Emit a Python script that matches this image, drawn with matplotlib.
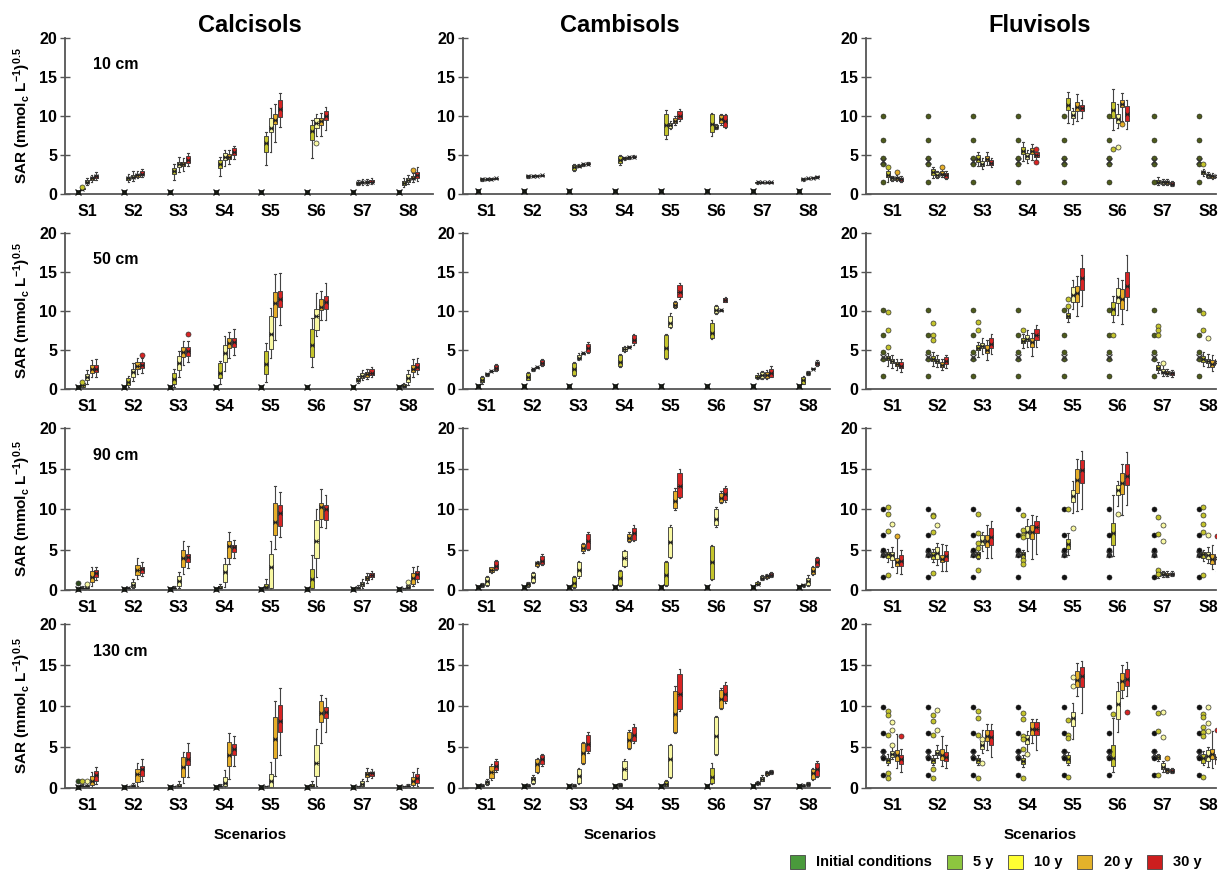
import matplotlib
matplotlib.use('Agg')
import matplotlib.pyplot as plt
from matplotlib.patches import Patch

plt.rcParams['font.family'] = ['Liberation Sans', 'DejaVu Sans']
plt.rcParams['font.weight'] = 'bold'
plt.rcParams['mathtext.fontset'] = 'custom'
plt.rcParams['mathtext.rm'] = 'Liberation Sans:bold'
plt.rcParams['mathtext.bf'] = 'Liberation Sans:bold'
plt.rcParams['mathtext.it'] = 'Liberation Sans:bold'

SCENARIOS = ['S1', 'S2', 'S3', 'S4', 'S5', 'S6', 'S7', 'S8']
SOILS = ['Calcisols', 'Cambisols', 'Fluvisols']
DEPTHS = ['10 cm', '50 cm', '90 cm', '130 cm']
TIMES = ['Initial conditions', '5 y', '10 y', '20 y', '30 y']
YTICKS = [0, 5, 10, 15, 20]

# ---- box stats per scenario: (whisker_low, q1, median, q3, whisker_high)
# ---------------- Calcisols ----------------
CALC_10_INIT = [0.2, 0.2, 0.2, 0.2, 0.2, 0.2, 0.2, 0.2]
CALC_10_Y05 = [(0.5,0.6,0.7,0.8,1.0),(1.5,1.8,2.0,2.2,2.6),(1.8,2.6,3.0,3.3,3.9),(2.3,3.3,3.8,4.4,4.8),(3.7,5.4,6.5,7.4,8.0),(4.6,6.9,8.1,8.8,9.5),(1.1,1.3,1.4,1.6,1.8),(0.9,1.2,1.4,1.7,2.0)]
CALC_10_Y10 = [(1.1,1.4,1.6,1.8,2.1),(1.7,2.0,2.2,2.5,2.9),(2.8,3.5,3.8,4.1,4.7),(3.6,4.3,4.8,5.2,5.7),(5.4,7.9,8.5,9.7,11.0),(7.4,8.5,9.1,9.7,10.3),(1.2,1.4,1.5,1.6,1.9),(1.3,1.6,1.8,2.0,2.4)]
CALC_10_Y20 = [(1.5,1.8,2.0,2.2,2.5),(2.0,2.2,2.4,2.6,3.0),(3.0,3.6,3.8,4.1,4.6),(3.9,4.5,4.8,5.1,5.7),(6.7,9.0,9.5,10.3,11.6),(7.5,8.9,9.3,9.8,10.4),(1.2,1.4,1.5,1.7,1.9),(1.5,1.9,2.1,2.3,2.7)]
CALC_10_Y30 = [(1.8,2.1,2.3,2.5,2.8),(2.2,2.4,2.6,2.9,3.2),(3.6,4.0,4.4,4.9,5.3),(4.5,5.0,5.4,5.9,6.2),(8.6,9.9,10.9,12.0,12.9),(8.2,9.5,10.0,10.6,11.2),(1.3,1.5,1.6,1.8,2.0),(1.7,2.0,2.4,2.8,3.4)]
CALC_10_OUT = [(6, 2, 6.6), (8, 3, 3.1), (1, 1, 0.9)]

CALC_50_INIT = [0.2, 0.2, 0.2, 0.2, 0.2, 0.2, 0.2, 0.2]
CALC_50_Y05 = [(0.1,0.3,0.5,0.8,1.0),(0.2,0.5,0.9,1.4,1.7),(0.3,0.7,1.3,2.1,2.5),(0.6,1.4,2.0,3.3,3.6),(0.9,1.9,3.2,4.9,5.9),(2.8,4.1,5.6,7.7,9.1),(0.8,1.0,1.2,1.4,1.7),(0.1,0.2,0.4,0.6,0.8)]
CALC_50_Y10 = [(0.6,1.1,1.5,1.9,2.4),(1.0,1.6,2.2,2.6,3.3),(1.5,2.4,3.3,4.2,4.9),(2.3,3.4,4.6,5.6,6.8),(4.0,5.1,7.0,9.3,10.4),(6.8,7.6,9.3,10.3,12.3),(1.1,1.4,1.7,2.1,2.4),(0.5,0.9,1.4,1.9,2.4)]
CALC_50_Y20 = [(1.6,2.1,2.6,3.1,3.7),(1.9,2.6,3.0,3.5,4.0),(3.1,4.1,4.8,5.4,6.1),(4.0,5.2,5.9,6.6,7.3),(6.3,9.2,11.0,12.4,14.7),(8.9,10.1,10.5,11.5,12.6),(1.3,1.6,1.9,2.2,2.5),(1.6,2.2,2.6,3.1,3.9)]
CALC_50_Y30 = [(1.6,2.2,2.6,3.1,3.8),(2.1,2.7,3.1,3.5,4.0),(3.5,4.2,4.9,5.4,6.2),(4.4,5.4,6.0,6.6,7.7),(8.2,10.5,11.6,12.5,14.9),(8.8,10.3,11.2,11.9,13.6),(1.5,1.8,2.1,2.5,2.8),(1.9,2.4,2.8,3.3,4.0)]
CALC_50_OUT = [(2, 4, 4.4), (3, 4, 7.0), (1, 1, 0.9)]

CALC_90_INIT = [0.1, 0.1, 0.1, 0.1, 0.1, 0.1, 0.1, 0.1]
CALC_90_Y05 = [(0.1,0.15,0.2,0.3,0.5),(0.05,0.1,0.2,0.3,0.4),(0.05,0.1,0.2,0.3,0.5),(0.1,0.2,0.3,0.5,0.8),(0.1,0.2,0.4,0.7,1.3),(0.1,0.3,1.4,2.6,4.3),(0.05,0.1,0.2,0.4,0.6),(0.05,0.1,0.15,0.2,0.3)]
CALC_90_Y10 = [(0.1,0.2,0.3,0.5,0.8),(0.2,0.4,0.6,1.0,1.4),(0.3,0.5,1.1,1.7,2.2),(0.4,1.0,2.2,3.2,4.0),(0.1,0.3,2.8,4.5,6.0),(1.6,4.0,6.0,8.6,10.0),(0.3,0.5,0.8,1.0,1.4),(0.1,0.2,0.4,0.6,0.9)]
CALC_90_Y20 = [(0.5,1.0,1.6,2.3,2.9),(1.4,1.9,2.5,3.1,4.0),(2.0,2.9,4.0,4.9,6.0),(3.2,4.0,5.4,6.1,7.2),(5.1,6.8,8.4,10.7,12.8),(7.8,8.8,10.3,10.8,12.5),(0.9,1.2,1.5,1.7,2.1),(0.5,0.8,1.5,2.1,2.8)]
CALC_90_Y30 = [(1.2,1.6,2.1,2.5,2.9),(1.7,2.1,2.6,2.9,3.5),(2.7,3.5,4.1,4.5,5.4),(3.9,4.7,5.3,5.6,6.2),(6.5,7.9,9.5,10.5,12.1),(7.6,8.7,10.0,10.5,11.7),(1.3,1.6,1.9,2.1,2.4),(1.0,1.4,2.0,2.4,3.0)]
CALC_90_OUT = [(1, 0, 0.9), (1, 2, 0.8), (8, 2, 1.0)]

CALC_130_INIT = [0.1, 0.1, 0.1, 0.1, 0.1, 0.1, 0.1, 0.1]
CALC_130_Y05 = [(0.05,0.1,0.2,0.3,0.5),(0.05,0.1,0.15,0.2,0.3),(0.05,0.1,0.15,0.2,0.3),(0.05,0.1,0.2,0.3,0.5),(0.05,0.1,0.15,0.2,0.3),(0.05,0.1,0.3,0.5,0.8),(0.05,0.1,0.15,0.2,0.3),(0.05,0.1,0.15,0.2,0.3)]
CALC_130_Y10 = [(0.05,0.1,0.25,0.4,0.8),(0.05,0.1,0.2,0.35,0.6),(0.05,0.1,0.3,0.5,0.8),(0.05,0.2,0.6,1.3,2.2),(0.0,0.1,0.8,1.7,3.2),(0.2,1.5,3.0,5.3,7.2),(0.1,0.3,0.5,0.8,1.1),(0.05,0.1,0.2,0.3,0.5)]
CALC_130_Y20 = [(0.1,0.4,0.9,1.5,2.0),(0.3,0.7,1.7,2.3,3.1),(0.6,1.3,2.6,3.8,4.4),(1.1,2.7,4.0,5.6,6.7),(1.5,3.6,6.0,8.7,10.6),(5.5,8.0,9.1,10.6,11.3),(0.9,1.3,1.7,2.0,2.4),(0.1,0.4,0.8,1.3,1.9)]
CALC_130_Y30 = [(0.5,0.8,1.6,2.1,2.6),(0.8,1.5,2.3,2.7,3.5),(1.4,2.8,3.5,4.4,5.5),(2.7,4.0,4.7,5.4,6.4),(4.0,6.8,8.2,10.1,12.2),(6.8,8.5,9.3,9.9,11.0),(1.2,1.5,1.8,2.0,2.3),(0.3,0.6,1.2,1.7,2.4)]
CALC_130_OUT = [(1, 0, 0.9), (1, 2, 0.85), (1, 1, 0.85)]

# ---------------- Cambisols ----------------
CAMB_10_INIT = [0.35, 0.35, 0.35, 0.35, 0.35, 0.35, 0.35, 0.35]
CAMB_10_Y05 = [(1.7,1.8,1.9,2.0,2.1),(2.1,2.2,2.3,2.4,2.5),(2.9,3.1,3.4,3.7,3.9),(3.7,4.0,4.4,4.9,5.0),(7.0,7.6,8.8,10.3,10.8),(7.4,8.0,9.0,10.2,10.4),(1.3,1.4,1.5,1.6,1.7),(1.7,1.8,1.9,2.0,2.1)]
CAMB_10_Y10 = [(1.8,1.85,1.9,1.95,2.0),(2.2,2.25,2.3,2.35,2.4),(3.4,3.5,3.6,3.7,3.8),(4.4,4.5,4.6,4.7,4.8),(8.3,8.5,8.8,9.1,9.3),(8.3,8.4,8.6,8.8,9.0),(1.4,1.45,1.5,1.55,1.6),(1.9,1.95,2.0,2.05,2.1)]
CAMB_10_Y20 = [(1.85,1.9,1.95,2.0,2.05),(2.25,2.3,2.35,2.4,2.45),(3.6,3.7,3.8,3.9,4.0),(4.5,4.6,4.7,4.8,4.9),(8.9,9.1,9.4,9.8,10.0),(8.9,9.1,9.6,10.1,10.2),(1.4,1.45,1.5,1.55,1.6),(2.0,2.05,2.1,2.15,2.2)]
CAMB_10_Y30 = [(1.9,1.95,2.0,2.05,2.1),(2.3,2.35,2.4,2.45,2.5),(3.7,3.8,3.9,4.0,4.1),(4.6,4.7,4.8,4.9,5.0),(9.3,9.6,10.0,10.6,10.9),(8.4,8.6,9.4,10.1,10.2),(1.4,1.45,1.5,1.55,1.6),(2.1,2.15,2.2,2.25,2.3)]
CAMB_10_OUT = []

CAMB_50_INIT = [0.35, 0.35, 0.35, 0.35, 0.35, 0.35, 0.35, 0.35]
CAMB_50_Y05 = [(0.7,0.85,1.2,1.6,1.7),(1.1,1.2,1.6,2.0,2.2),(1.7,1.8,2.5,3.3,3.4),(2.8,2.9,3.4,4.4,4.5),(3.9,4.0,5.2,6.9,7.0),(6.4,6.5,7.2,8.4,8.9),(1.3,1.4,1.6,1.8,2.0),(0.6,0.7,1.1,1.5,1.7)]
CAMB_50_Y10 = [(1.7,1.8,1.9,2.0,2.1),(2.3,2.4,2.5,2.6,2.7),(3.7,3.8,4.0,4.4,4.6),(4.8,4.9,5.1,5.4,5.5),(7.8,8.0,8.5,9.4,9.8),(9.6,9.7,10.1,10.6,10.8),(1.3,1.4,1.8,2.2,2.3),(1.8,1.9,2.0,2.2,2.3)]
CAMB_50_Y20 = [(2.2,2.25,2.3,2.35,2.4),(2.7,2.75,2.8,2.85,2.9),(4.5,4.55,4.6,4.65,4.7),(5.3,5.35,5.4,5.45,5.5),(10.4,10.5,10.8,11.2,11.3),(10.0,10.05,10.1,10.15,10.2),(1.3,1.4,1.8,2.2,2.4),(2.5,2.55,2.6,2.65,2.7)]
CAMB_50_Y30 = [(2.3,2.4,2.7,3.1,3.2),(2.9,3.1,3.3,3.7,3.8),(4.6,4.8,5.2,5.8,6.0),(5.6,5.9,6.3,6.9,7.1),(11.6,11.8,12.4,13.3,13.6),(11.1,11.2,11.4,11.7,11.8),(1.5,1.6,2.1,2.5,2.9),(3.0,3.1,3.3,3.5,3.7)]
CAMB_50_OUT = []

CAMB_90_INIT = [0.35, 0.35, 0.35, 0.35, 0.35, 0.35, 0.35, 0.35]
CAMB_90_Y05 = [(0.4,0.5,0.6,0.8,0.9),(0.4,0.5,0.7,0.9,1.0),(0.3,0.4,0.9,1.6,1.7),(0.5,0.6,1.5,2.3,2.5),(0.5,0.6,1.9,3.4,3.6),(1.2,1.3,3.4,5.4,5.6),(0.6,0.7,0.8,1.0,1.1),(0.4,0.5,0.6,0.7,0.8)]
CAMB_90_Y10 = [(0.5,0.6,1.1,1.6,1.7),(0.9,1.0,1.6,2.1,2.2),(1.5,1.7,2.5,3.4,3.6),(2.9,3.0,4.0,4.8,5.0),(3.9,4.1,5.9,7.8,8.0),(7.8,8.0,8.8,10.0,10.3),(1.2,1.3,1.5,1.7,1.8),(0.5,0.6,1.1,1.5,1.8)]
CAMB_90_Y20 = [(2.1,2.2,2.5,2.8,2.9),(2.9,3.0,3.3,3.5,3.6),(4.6,4.8,5.2,5.7,5.8),(5.9,6.0,6.4,6.9,7.1),(9.9,10.1,11.0,12.2,12.6),(10.7,10.9,11.3,12.0,12.2),(1.4,1.5,1.7,1.9,2.0),(1.9,2.0,2.4,2.9,3.0)]
CAMB_90_Y30 = [(2.5,2.6,3.0,3.6,3.7),(3.1,3.2,3.6,4.2,4.4),(4.9,5.1,6.0,6.9,7.1),(6.0,6.2,7.0,7.7,8.0),(11.3,11.5,12.8,14.5,15.0),(10.9,11.1,11.8,12.6,12.9),(1.6,1.7,1.9,2.1,2.2),(2.9,3.0,3.5,3.9,4.1)]
CAMB_90_OUT = []

CAMB_130_INIT = [0.3, 0.3, 0.3, 0.3, 0.3, 0.3, 0.3, 0.3]
CAMB_130_Y05 = [(0.1,0.2,0.3,0.4,0.5),(0.1,0.2,0.3,0.4,0.5),(0.1,0.2,0.3,0.4,0.5),(0.1,0.2,0.4,0.5,0.6),(0.2,0.3,0.5,0.8,1.0),(0.5,0.6,1.3,2.4,3.0),(0.4,0.5,0.6,0.7,0.8),(0.1,0.2,0.3,0.4,0.5)]
CAMB_130_Y10 = [(0.4,0.5,0.7,0.9,1.1),(0.5,0.6,1.1,1.4,1.6),(0.5,0.6,1.5,2.3,2.5),(1.0,1.1,2.3,3.3,3.5),(1.2,1.3,3.5,5.2,5.4),(4.0,4.1,6.3,8.6,8.8),(0.8,0.9,1.1,1.4,1.6),(0.3,0.4,0.5,0.6,0.7)]
CAMB_130_Y20 = [(1.0,1.2,1.9,2.7,2.9),(1.8,2.0,2.9,3.5,3.7),(2.9,3.0,4.3,5.5,5.6),(4.8,4.9,5.8,6.8,7.1),(6.7,6.8,9.0,11.8,12.5),(9.6,9.8,10.9,12.0,12.2),(1.5,1.6,1.8,2.0,2.1),(1.0,1.1,1.8,2.3,2.5)]
CAMB_130_Y30 = [(2.0,2.2,2.7,3.3,3.5),(2.7,2.9,3.5,4.0,4.2),(4.3,4.5,5.4,6.5,6.8),(5.5,5.7,6.5,7.5,7.8),(9.4,9.6,11.5,13.9,14.5),(10.4,10.6,11.5,12.6,12.9),(1.7,1.8,1.9,2.1,2.2),(1.4,1.5,2.3,3.1,3.3)]
CAMB_130_OUT = []

# ---------------- Fluvisols ----------------
FLUV_10_INIT = [1.6, 3.9, 4.6, 6.9, 10.0]
FLUV_10_INIT_MEAN = 4.2
FLUV_10_Y05 = [(1.6,2.2,2.5,3.0,3.3),(2.1,2.4,2.8,3.2,3.4),(3.6,4.1,4.5,5.0,5.4),(4.2,5.1,5.5,6.0,6.7),(9.1,10.8,11.4,12.3,13.1),(8.2,9.7,10.8,11.8,13.5),(1.2,1.4,1.6,1.8,2.2),(2.3,2.6,2.8,3.0,3.2)]
FLUV_10_Y10 = [(1.7,1.8,2.0,2.2,2.3),(2.0,2.2,2.5,2.8,3.0),(3.2,3.6,3.9,4.2,4.6),(4.0,4.5,4.9,5.3,5.7),(9.0,9.7,10.1,10.6,11.0),(8.5,9.1,9.6,10.3,11.5),(1.1,1.3,1.5,1.7,1.9),(2.0,2.2,2.4,2.6,2.8)]
FLUV_10_Y20 = [(1.7,1.8,2.0,2.2,2.4),(2.2,2.4,2.6,2.9,3.3),(3.7,4.2,4.5,4.9,5.4),(4.3,5.1,5.5,5.9,6.4),(9.3,10.6,11.1,11.8,12.8),(9.3,11.1,11.6,12.1,12.9),(1.1,1.3,1.5,1.7,1.9),(1.9,2.1,2.3,2.5,2.7)]
FLUV_10_Y30 = [(1.5,1.7,1.9,2.1,2.3),(1.9,2.1,2.4,2.7,2.9),(3.4,3.7,4.0,4.3,4.6),(4.2,4.7,5.0,5.4,5.9),(9.8,10.6,11.0,11.4,12.0),(8.3,9.3,10.2,11.3,12.0),(1.0,1.1,1.3,1.5,1.7),(1.9,2.1,2.3,2.5,2.7)]
FLUV_10_OUT = [(1,1,3.5),(1,3,2.8),(2,3,3.5),(4,4,5.8),(4,4,4.1),(6,1,5.8),(6,2,6.0),(6,3,9.0),(8,1,3.8)]

FLUV_50_INIT = [1.7, 3.9, 4.7, 6.9, 10.1]
FLUV_50_INIT_MEAN = 4.1
FLUV_50_Y05 = [(3.0,3.7,4.0,4.2,4.6),(3.0,3.6,3.9,4.2,4.7),(4.1,5.0,5.2,5.6,6.0),(5.3,5.9,6.2,6.5,7.0),(8.6,9.1,9.4,9.8,10.4),(8.6,9.5,10.3,11.2,11.9),(2.0,2.4,2.7,3.1,3.5),(3.0,3.5,3.9,4.2,4.7)]
FLUV_50_Y10 = [(2.7,3.3,3.6,3.9,4.3),(2.8,3.3,3.6,3.9,4.3),(4.5,5.2,5.5,5.9,6.5),(5.4,6.1,6.4,6.9,7.5),(10.3,11.2,12.0,13.1,14.0),(9.5,11.0,11.8,12.9,14.2),(1.7,2.0,2.2,2.5,3.2),(2.8,3.3,3.6,3.9,4.5)]
FLUV_50_Y20 = [(2.4,2.9,3.2,3.5,3.9),(2.4,2.8,3.1,3.4,3.8),(3.7,4.6,5.0,5.6,6.3),(4.2,5.4,6.0,6.5,7.2),(9.4,11.1,12.3,13.2,14.5),(8.3,10.3,11.5,12.8,14.0),(1.7,1.9,2.1,2.3,2.5),(2.3,2.8,3.2,3.7,4.4)]
FLUV_50_Y30 = [(2.2,2.7,3.0,3.4,3.8),(2.7,3.2,3.6,4.1,4.4),(4.5,5.2,5.8,6.5,7.0),(5.4,6.3,6.9,7.7,8.2),(10.6,12.7,14.2,15.5,17.2),(10.1,11.8,13.2,15.0,17.2),(1.6,1.8,2.0,2.2,2.4),(2.6,3.1,3.4,3.8,4.3)]
FLUV_50_OUT = [(1,1,9.9),(1,1,7.5),(1,1,5.4),(2,1,8.4),(2,1,6.9),(2,1,6.3),(3,1,8.6),(3,1,7.5),(4,1,7.6),(5,1,10.6),(5,1,11.5),(6,1,6.9),(7,1,8.1),(7,1,7.5),(7,1,6.9),(7,2,3.3),(8,1,9.8),(8,1,7.5),(8,2,6.6)]

FLUV_90_INIT = [1.6, 4.3, 5.0, 6.8, 10.0]
FLUV_90_INIT_MEAN = 4.5
FLUV_90_Y05 = [(3.4,4.0,4.4,4.7,5.1),(3.5,3.8,4.3,4.7,5.1),(3.8,4.0,4.4,4.7,5.0),(3.8,4.0,4.4,4.7,5.0),(4.3,5.1,5.7,6.3,7.0),(4.2,5.5,7.0,8.3,11.7),(1.5,1.7,2.0,2.3,2.6),(3.6,4.0,4.4,4.7,5.0)]
FLUV_90_Y10 = [(2.9,3.7,4.3,4.7,5.3),(3.1,3.8,4.6,5.3,5.8),(4.8,5.5,6.1,6.8,7.1),(4.8,6.4,7.1,7.9,8.8),(9.5,10.9,11.6,12.4,13.5),(10.4,11.7,12.3,13.0,13.5),(1.6,1.8,2.0,2.2,2.4),(3.3,3.8,4.3,4.7,5.3)]
FLUV_90_Y20 = [(2.1,3.0,3.5,4.0,6.5),(2.4,3.4,3.8,4.3,5.7),(4.0,5.3,6.0,6.8,8.0),(3.8,6.3,7.2,8.0,9.3),(9.8,12.0,13.6,14.9,16.2),(9.2,11.9,13.2,14.5,15.5),(1.6,1.8,1.9,2.1,2.3),(2.6,3.2,3.8,4.5,5.5)]
FLUV_90_Y30 = [(2.0,3.0,3.6,4.3,5.0),(2.4,3.6,4.2,4.8,5.6),(3.9,5.6,6.6,7.7,8.5),(4.5,7.0,7.8,8.5,9.1),(10.0,13.2,14.8,16.0,17.2),(10.5,13.0,14.1,15.5,17.0),(1.7,1.8,2.0,2.1,2.3),(2.3,3.2,3.9,4.5,5.0)]
FLUV_90_OUT = [(1,1,10.3),(1,1,9.4),(1,1,7.3),(1,1,1.8),(1,2,8.1),(1,3,6.7),
               (2,1,9.3),(2,1,9.1),(2,1,7.1),(2,1,2.1),(2,2,8.0),
               (3,1,9.4),(3,1,7.0),(3,1,5.8),(3,1,5.2),(3,1,2.5),
               (4,1,9.3),(4,1,7.4),(4,1,6.8),(4,1,6.5),(4,1,3.7),(4,1,3.2),
               (5,1,10.0),(5,2,7.7),(6,2,9.4),
               (7,1,9.0),(7,2,8.0),(7,1,6.9),(7,2,6.0),(7,1,2.5),(7,1,2.0),
               (8,1,10.3),(8,1,9.3),(8,1,8.2),(8,1,7.1),(8,2,6.8),(8,1,1.8),(8,4,6.7)]

FLUV_130_INIT = [1.6, 3.6, 4.5, 6.7, 9.9]
FLUV_130_INIT_MEAN = 4.2
FLUV_130_Y05 = [(2.8,3.1,3.4,3.7,4.2),(2.8,3.1,3.4,3.7,4.0),(2.8,3.0,3.4,3.7,4.0),(2.6,2.9,3.3,3.7,4.0),(2.8,3.1,3.5,4.0,4.4),(1.9,2.7,3.7,5.3,8.5),(3.3,3.5,3.8,4.0,4.2),(2.8,3.1,3.6,4.2,4.5)]
FLUV_130_Y10 = [(3.5,3.8,4.1,4.5,5.1),(3.6,4.0,4.3,4.6,5.2),(4.3,4.8,5.2,5.7,7.1),(3.9,5.4,6.0,6.5,7.0),(6.0,7.6,8.5,9.3,10.4),(6.8,8.4,10.2,11.8,12.9),(2.0,2.3,2.6,3.0,3.3),(2.6,3.3,3.9,4.6,5.0)]
FLUV_130_Y20 = [(2.5,3.3,4.0,4.6,6.6),(2.7,3.4,4.0,4.8,6.4),(4.6,5.7,6.4,7.1,7.8),(5.5,6.5,7.2,8.0,8.4),(11.2,12.3,13.2,14.3,15.2),(11.0,12.0,13.0,14.0,15.0),(1.8,2.0,2.2,2.3,2.5),(2.5,3.5,4.1,4.8,6.9)]
FLUV_130_Y30 = [(1.9,2.9,3.5,4.0,4.7),(2.5,3.3,3.8,4.4,5.3),(3.8,5.3,6.2,7.1,7.8),(4.6,6.5,7.2,8.0,8.4),(9.2,12.3,13.6,14.8,15.5),(11.2,12.5,13.3,14.5,15.4),(1.8,2.0,2.1,2.3,2.5),(2.3,2.9,3.6,4.2,4.8)]
FLUV_130_OUT = [(1,1,9.4),(1,1,8.9),(1,1,6.5),(1,1,1.8),(1,1,1.2),(1,2,8.0),(1,2,7.1),(1,2,5.2),(1,4,6.3),
                (2,1,8.9),(2,1,8.2),(2,1,6.5),(2,1,2.3),(2,1,1.2),(2,2,9.5),(2,2,7.1),
                (3,1,9.4),(3,1,8.5),(3,1,6.5),(3,1,1.2),(3,2,6.0),(3,2,3.0),
                (4,1,9.2),(4,1,8.4),(4,1,6.3),(4,1,6.0),(4,1,4.7),(4,1,1.2),(4,2,4.2),
                (5,1,8.3),(5,1,6.5),(5,1,6.1),(5,1,1.4),(5,2,13.5),(5,2,12.5),
                (6,1,9.0),(6,4,9.3),
                (7,1,9.1),(7,2,9.3),(7,1,6.9),(7,2,6.2),(7,1,1.6),(7,3,3.7),
                (8,1,9.0),(8,1,8.6),(8,1,7.5),(8,1,6.8),(8,1,6.3),(8,1,1.3),(8,2,9.9),(8,2,7.9),(8,2,7.0),(8,4,7.1)]

# ---------------- styling ----------------
BOX_COLORS = ['#2e4a1c', '#c4c42c', '#f8f8a2', '#e6ae28', '#d82424']
LEGEND_COLORS = ['#4a9a3c', '#8dc63f', '#ffff33', '#e3b22a', '#cc1e1e']
OFFSETS = [-0.2, -0.1, 0.0, 0.1, 0.2]
BOX_W = 0.09

fig = plt.figure(figsize=(12.18, 8.76), dpi=100)

COL_X = [(65, 433), (463, 830), (866, 1216)]
COL_XLIM = [(0.52, 8.54), (0.48, 8.48), (0.42, 8.18)]
ROW_Y = [(38, 194), (233, 389), (428, 590), (624, 788)]
FW, FH = 1218.0, 876.0

panels = {
    (0, 0): (CALC_10_INIT, [CALC_10_Y05, CALC_10_Y10, CALC_10_Y20, CALC_10_Y30], CALC_10_OUT),
    (1, 0): (CALC_50_INIT, [CALC_50_Y05, CALC_50_Y10, CALC_50_Y20, CALC_50_Y30], CALC_50_OUT),
    (2, 0): (CALC_90_INIT, [CALC_90_Y05, CALC_90_Y10, CALC_90_Y20, CALC_90_Y30], CALC_90_OUT),
    (3, 0): (CALC_130_INIT, [CALC_130_Y05, CALC_130_Y10, CALC_130_Y20, CALC_130_Y30], CALC_130_OUT),
    (0, 1): (CAMB_10_INIT, [CAMB_10_Y05, CAMB_10_Y10, CAMB_10_Y20, CAMB_10_Y30], CAMB_10_OUT),
    (1, 1): (CAMB_50_INIT, [CAMB_50_Y05, CAMB_50_Y10, CAMB_50_Y20, CAMB_50_Y30], CAMB_50_OUT),
    (2, 1): (CAMB_90_INIT, [CAMB_90_Y05, CAMB_90_Y10, CAMB_90_Y20, CAMB_90_Y30], CAMB_90_OUT),
    (3, 1): (CAMB_130_INIT, [CAMB_130_Y05, CAMB_130_Y10, CAMB_130_Y20, CAMB_130_Y30], CAMB_130_OUT),
    (0, 2): ((FLUV_10_INIT, FLUV_10_INIT_MEAN), [FLUV_10_Y05, FLUV_10_Y10, FLUV_10_Y20, FLUV_10_Y30], FLUV_10_OUT),
    (1, 2): ((FLUV_50_INIT, FLUV_50_INIT_MEAN), [FLUV_50_Y05, FLUV_50_Y10, FLUV_50_Y20, FLUV_50_Y30], FLUV_50_OUT),
    (2, 2): ((FLUV_90_INIT, FLUV_90_INIT_MEAN), [FLUV_90_Y05, FLUV_90_Y10, FLUV_90_Y20, FLUV_90_Y30], FLUV_90_OUT),
    (3, 2): ((FLUV_130_INIT, FLUV_130_INIT_MEAN), [FLUV_130_Y05, FLUV_130_Y10, FLUV_130_Y20, FLUV_130_Y30], FLUV_130_OUT),
}

SPINE_C = '#555555'
fluv_init_colors = ['#4d5a1c', '#4d5a1c', '#111111', '#111111']

for (r, c), (init, groups, outs) in panels.items():
    x0, x1 = COL_X[c]
    ytop, ybot = ROW_Y[r]
    ax = fig.add_axes([x0 / FW, 1 - ybot / FH, (x1 - x0) / FW, (ybot - ytop) / FH])
    ax.set_xlim(*COL_XLIM[c])
    ax.set_ylim(0, 20)
    for s in ['top', 'right']:
        ax.spines[s].set_visible(False)
    for s in ['left', 'bottom']:
        ax.spines[s].set_color(SPINE_C)
        ax.spines[s].set_linewidth(1.3)
    ax.set_yticks(YTICKS)
    ax.set_yticklabels([str(v) for v in YTICKS], fontsize=11.5, fontweight='bold')
    ax.tick_params(axis='y', direction='inout', length=7, width=1.0, color=SPINE_C, pad=2)
    ax.set_xticks(range(1, 9))
    ax.set_xticklabels(SCENARIOS, fontsize=11.5, fontweight='bold')
    ax.tick_params(axis='x', length=0, pad=7)
    ax.patch.set_alpha(0)

    xs = list(range(1, 9))
    # initial conditions
    if c < 2:
        pos = [x + OFFSETS[0] for x in xs]
        ax.plot(pos, init, ls='none', marker='s', ms=3.5, mfc=BOX_COLORS[0], mec='#111', mew=0.5, zorder=3, clip_on=False)
        ax.plot(pos, init, ls='none', marker='x', ms=4.5, mec='#111', mew=0.9, zorder=4, clip_on=False)
    else:
        pts, mean = init
        for x in xs:
            ax.plot([x + OFFSETS[0]] * len(pts), pts, ls='none', marker='o', ms=3.6,
                    mfc=fluv_init_colors[r], mec='#222', mew=0.4, zorder=3)
            ax.plot([x + OFFSETS[0]], [mean], ls='none', marker='x', ms=5, mec='#333', mew=0.9, zorder=4)

    for k, grp in enumerate(groups):
        stats = [dict(whislo=lo, q1=q1, med=med, q3=q3, whishi=hi, mean=med, fliers=[])
                 for (lo, q1, med, q3, hi) in grp]
        pos = [x + OFFSETS[k + 1] for x in xs]
        ax.bxp(stats, positions=pos, widths=BOX_W, patch_artist=True, showmeans=True,
               showfliers=False, manage_ticks=False, capwidths=0.035,
               boxprops=dict(facecolor=BOX_COLORS[k + 1], edgecolor='#333333', linewidth=0.6),
               medianprops=dict(color='#222222', linewidth=0.7),
               whiskerprops=dict(color='#444444', linewidth=0.8),
               capprops=dict(color='#444444', linewidth=0.8),
               meanprops=dict(marker='x', markeredgecolor='#222222', markersize=3.5, markeredgewidth=0.7))

    for (sc, g, v) in outs:
        ax.plot([sc + OFFSETS[g]], [v], ls='none', marker='o', ms=3.6,
                mfc=BOX_COLORS[g], mec='#333', mew=0.5, zorder=5)

    if c == 0:
        ax.text(0.075, 0.83, DEPTHS[r], transform=ax.transAxes, fontsize=11.5,
                fontweight='bold', ha='left', va='center')
        fig.text(22 / FW, 1 - (ytop + ybot) / 2 / FH,
                 r'SAR (mmol$_{c}$ L$^{-1}$)$^{0.5}$', rotation=90,
                 fontsize=11, fontweight='bold', ha='center', va='center')

TITLE_X = [250, 620, 1040]
for c, name in enumerate(SOILS):
    fig.text(TITLE_X[c] / FW, 1 - 25 / FH, name, fontsize=17, fontweight='bold', ha='center', va='center')
    fig.text(TITLE_X[c] / FW, 1 - 835 / FH, 'Scenarios', fontsize=11, fontweight='bold', ha='center', va='center')

handles = [Patch(facecolor=col, edgecolor='#444444', linewidth=0.6) for col in LEGEND_COLORS]
fig.legend(handles, TIMES, loc='center', bbox_to_anchor=(996 / FW, 1 - 862 / FH), ncol=5,
           frameon=False, handlelength=1.0, handleheight=1.1, handletextpad=0.8,
           columnspacing=1.0, prop=dict(weight='bold', size=10.5))

fig.savefig('out.png', dpi=100)
